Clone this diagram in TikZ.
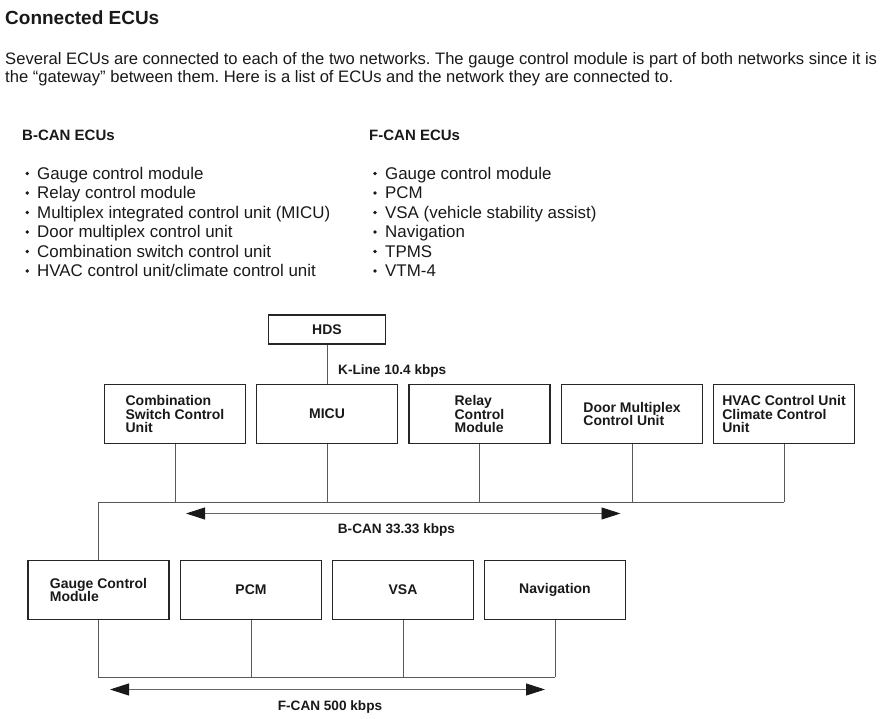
\documentclass[tikz,border=0pt]{standalone}
\usepackage{fontspec}
\setmainfont{Liberation Sans}
\usetikzlibrary{arrows.meta,positioning}
\frenchspacing

\begin{document}
\begin{tikzpicture}[
  x=1pt, y=-1pt,
  txt/.style={anchor=base west, inner sep=0pt, text=black!90},
  ecu/.style={draw=black!85, line width=1.4pt, minimum width=141pt, minimum height=59pt,
              inner sep=0pt, align=left, text=black!90,
              font=\fontsize{14}{13.6}\selectfont\bfseries},
  lbl/.style={inner sep=0pt, text=black!90, font=\fontsize{13.6}{15}\selectfont\bfseries},
  wire/.style={draw=black!65, line width=0.9pt},
  bus/.style={{Triangle[length=19pt,width=12pt,color=black!90]}-{Triangle[length=19pt,width=12pt,color=black!90]},
              draw=black!60, line width=0.9pt},
]
\useasboundingbox (0,0) rectangle (895,719);

% ---- heading and intro ----
\node[txt, font=\fontsize{19}{22}\selectfont\bfseries] (title) at (5,25) {Connected ECUs};
\node[txt, font=\fontsize{16.6}{19}\selectfont] (intro1) at (5,64.5)
  {Several ECUs are connected to each of the two networks. The gauge control module is part of both networks since it is};
\node[txt, font=\fontsize{16.6}{19}\selectfont] (intro2) at (5,83)
  {the “gateway” between them. Here is a list of ECUs and the network they are connected to.};

% ---- ECU lists ----
\node[txt, font=\fontsize{15}{17}\selectfont\bfseries] (bhead) at (22,140.7) {B-CAN ECUs};
\node[txt, font=\fontsize{15}{17}\selectfont\bfseries] (fhead) at (369,140.7) {F-CAN ECUs};
\foreach \t [count=\i] in {Gauge control module, Relay control module,
    Multiplex integrated control unit (MICU), Door multiplex control unit,
    Combination switch control unit, HVAC control unit/climate control unit}{
  \pgfmathsetmacro{\yb}{179.3+19.5*(\i-1)}
  \fill[black!90] (27.2,\yb-5.8) circle (1.9pt);
  \node[txt, font=\fontsize{16.9}{19}\selectfont] (bl\i) at (37,\yb) {\t};
}
\foreach \t [count=\i] in {Gauge control module, PCM, VSA (vehicle stability assist),
    Navigation, TPMS, VTM-4}{
  \pgfmathsetmacro{\yb}{179.3+19.5*(\i-1)}
  \fill[black!90] (375,\yb-5.8) circle (1.9pt);
  \node[txt, font=\fontsize{16.9}{19}\selectfont] (fl\i) at (385,\yb) {\t};
}

% ---- units ----
\node[ecu, minimum width=117pt, minimum height=29pt] (hds) at (327,329.5) {HDS};
\node[ecu] (comb)  at (175,414)   {Combination\\Switch Control\\Unit};
\node[ecu] (micu)  at (327,414)   {MICU};
\node[ecu] (relay) at (479.5,414) {Relay\\Control\\Module};
\node[ecu] (door)  at (632,414)   {Door Multiplex\\Control Unit};
\node[ecu] (hvac)  at (784,414)   {HVAC Control Unit\\Climate Control\\Unit};
\node[ecu] (gcm)   at (98.5,590)  {Gauge Control\\Module};
\node[ecu] (pcm)   at (251,590)   {PCM};
\node[ecu] (vsa)   at (403,590)   {VSA};
\node[ecu] (nav)   at (555,590)   {Navigation};

% ---- K-Line ----
\draw[wire] (hds.south) -- (hds.south |- micu.north);
\node[lbl, anchor=west] (kline) at (338,371) {K-Line 10.4 kbps};

% ---- B-CAN bus ----
\coordinate (bR) at (783.5,502);
\foreach \n in {comb,micu,relay,door,hvac}
  \draw[wire] (\n.south) -- (\n.south |- bR);
\draw[wire] (gcm.north) |- (bR);
\coordinate (bA1) at (186,513.5);
\coordinate (bA2) at (620.5,513.5);
\draw[bus] (bA1) -- (bA2);
\node[lbl] (bcan) at (396.5,530) {B-CAN 33.33 kbps};

% ---- F-CAN bus ----
\coordinate (fR) at (555,677);
\foreach \n in {pcm,vsa,nav}
  \draw[wire] (\n.south) -- (\n.south |- fR);
\draw[wire] (gcm.south) |- (fR);
\coordinate (fA1) at (110,689.5);
\coordinate (fA2) at (545,689.5);
\draw[bus] (fA1) -- (fA2);
\node[lbl] (fcan) at (330,707) {F-CAN 500 kbps};

\end{tikzpicture}
\end{document}
